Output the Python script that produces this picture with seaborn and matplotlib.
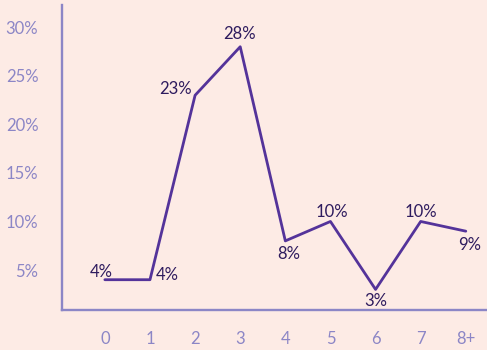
import matplotlib
matplotlib.use("Agg")
import matplotlib.pyplot as plt
import seaborn as sns
import pandas as pd

# Share of respondents by count
categories = ["0", "1", "2", "3", "4", "5", "6", "7", "8+"]
shares = [4, 4, 23, 28, 8, 10, 3, 10, 9]
y_ticks = [5, 10, 15, 20, 25, 30]
y_tick_labels = ["5%", "10%", "15%", "20%", "25%", "30%"]

# label offsets in pixels (dx, dy) from each point
label_offsets = [(-4, 8), (17, 5), (-20, 6), (-1, 13), (3, -13),
                 (1, 9), (0, -12), (0, 9), (4, -14)]

BG = "#FDEBE5"
LINE = "#54339A"
AXIS = "#8C86C6"
TEXT = "#2E1B5E"

sns.set_style("white")
plt.rcParams["font.family"] = ["Lato", "DejaVu Sans"]

df = pd.DataFrame({"pos": range(len(categories)), "share": shares})

fig = plt.figure(figsize=(4.87, 3.5), dpi=100, facecolor=BG)
ax = fig.add_axes([62 / 487, 40 / 350, 425 / 487, 305 / 350])
ax.set_facecolor(BG)

sns.lineplot(data=df, x="pos", y="share", color=LINE, linewidth=2.0, ax=ax)

for i, (v, (dx, dy)) in enumerate(zip(shares, label_offsets)):
    ax.annotate(f"{v}%", (i, v), xytext=(dx, dy), textcoords="offset pixels",
                ha="center", va="center", fontsize=12, color=TEXT)

ax.set_xlim(-0.95, 8.47)
ax.set_ylim(0.88, 32.3)
ax.set_xticks(range(len(categories)))
ax.set_xticklabels(categories)
ax.set_yticks(y_ticks)
ax.set_yticklabels(y_tick_labels)
ax.tick_params(axis="both", length=0, labelsize=12, labelcolor=AXIS)
ax.tick_params(axis="x", pad=15)
ax.tick_params(axis="y", pad=17)
ax.set_xlabel("")
ax.set_ylabel("")

for side in ["top", "right"]:
    ax.spines[side].set_visible(False)
for side in ["left", "bottom"]:
    ax.spines[side].set_color(AXIS)
    ax.spines[side].set_linewidth(1.7)

fig.savefig("out.png", dpi=100, facecolor=BG)
